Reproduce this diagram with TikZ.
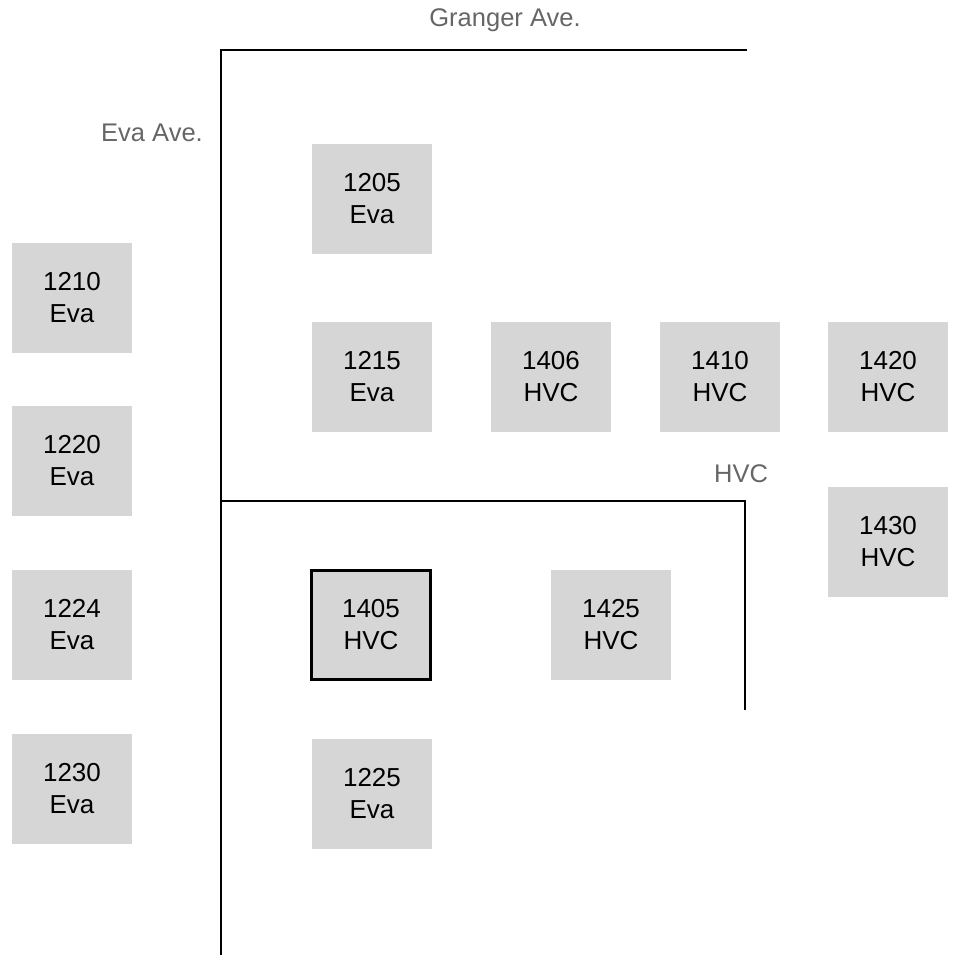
\documentclass[tikz,border=0pt]{standalone}
\usepackage{fontspec}
\setmainfont{Liberation Sans}
\tikzset{
  lot/.style={fill=lotgray, minimum width=120pt, minimum height=110pt, inner sep=0pt, align=center, font=\fontsize{26}{32}\selectfont, text=black},
  sel/.style={lot, draw=black, line width=3pt, minimum width=119pt, minimum height=109pt},
  road/.style={draw=black, line width=2pt},
  street/.style={text=streetgray, font=\fontsize{25.5}{30}\selectfont, inner sep=0pt}
}
\definecolor{lotgray}{HTML}{D6D6D6}
\definecolor{streetgray}{HTML}{666666}
\begin{document}
\begin{tikzpicture}[x=1pt,y=-1pt]
\useasboundingbox (0,0) rectangle (953,955);
% roads
\coordinate (gA) at (221,955);
\coordinate (gB) at (221,50);
\coordinate (gC) at (747,50);
\coordinate (hA) at (221,501);
\coordinate (hB) at (745,501);
\coordinate (hC) at (745,710);
\draw[road] (gA) -- (gB) -- (gC);
\draw[road] (hA) -- (hB) -- (hC);
% street labels
\node[street] (granger) at (505,20) {Granger Ave.};
\node[street, anchor=east] (eva) at (203,133) {Eva Ave.};
\node[street] (hvc) at (741,474) {HVC};
% lots
\node[lot] (l1205) at (372,199) {1205\\Eva};
\node[lot] (l1210) at (72,298) {1210\\Eva};
\node[lot] (l1215) at (372,377) {1215\\Eva};
\node[lot] (l1406) at (551,377) {1406\\HVC};
\node[lot] (l1410) at (720,377) {1410\\HVC};
\node[lot] (l1420) at (888,377) {1420\\HVC};
\node[lot] (l1220) at (72,461) {1220\\Eva};
\node[lot] (l1430) at (888,542) {1430\\HVC};
\node[lot] (l1224) at (72,625) {1224\\Eva};
\node[sel] (l1405) at (371,625) {1405\\HVC};
\node[lot] (l1425) at (611,625) {1425\\HVC};
\node[lot] (l1230) at (72,789) {1230\\Eva};
\node[lot] (l1225) at (372,794) {1225\\Eva};
\end{tikzpicture}
\end{document}
